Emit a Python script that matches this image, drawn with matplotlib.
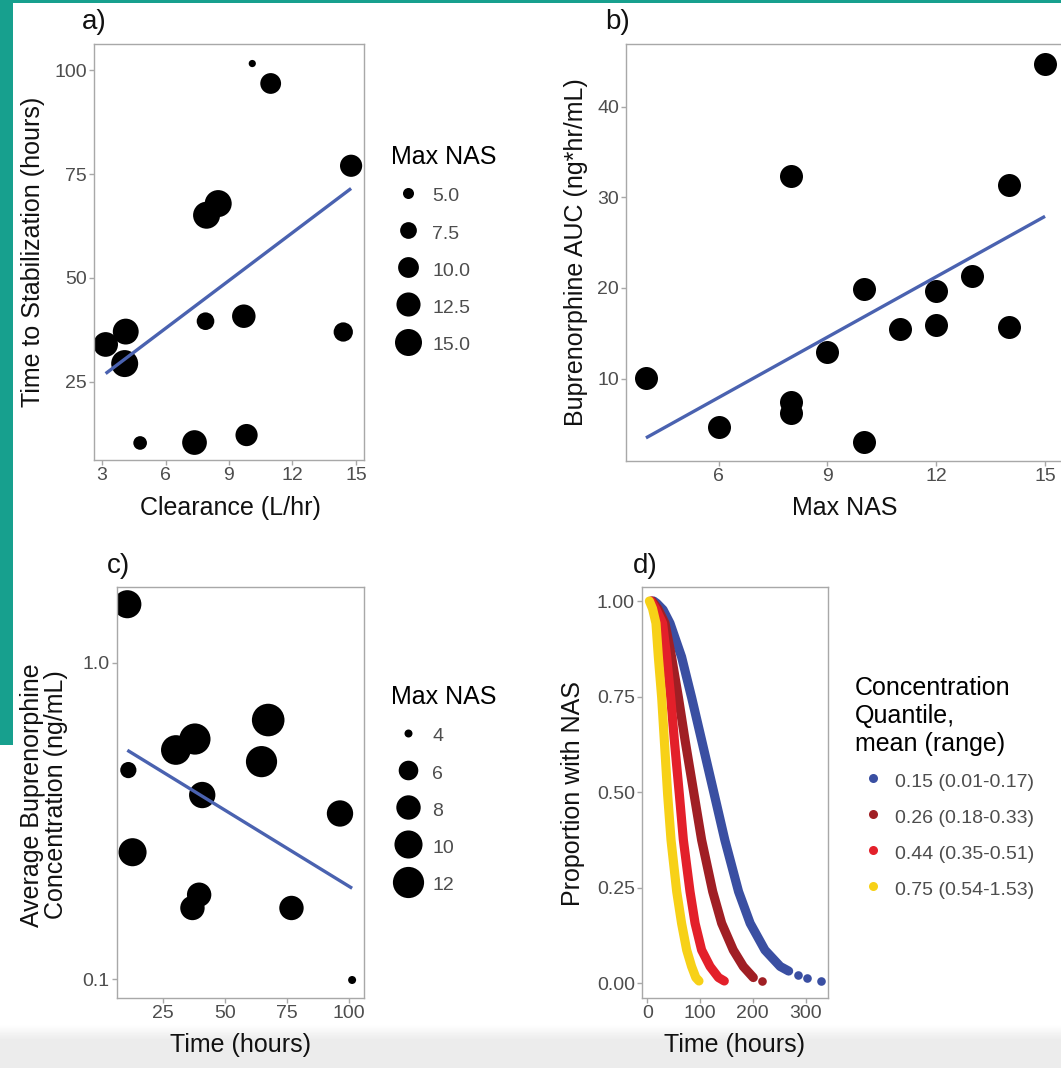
import numpy as np
import matplotlib
matplotlib.use("Agg")
import matplotlib.pyplot as plt
from matplotlib.lines import Line2D
from matplotlib.patches import Rectangle
from matplotlib.ticker import NullLocator

plt.rcParams['font.family'] = ['Liberation Sans', 'DejaVu Sans']

# ---------------- data ----------------
# a) Clearance vs time to stabilization
a_clearance = [10.1, 10.97, 14.77, 7.94, 8.49, 7.89, 9.70, 14.4, 4.12, 3.17, 4.07, 4.8, 7.37, 9.83]
a_time = [101.6, 96.8, 77.0, 65.1, 67.9, 39.6, 40.8, 37.0, 37.1, 34.0, 29.4, 10.3, 10.4, 12.2]
a_nas = [4, 10, 11, 15, 15, 8, 12, 9, 14, 13, 15, 6, 13, 11]
a_legend_values = [5.0, 7.5, 10.0, 12.5, 15.0]
a_legend_labels = ['5.0', '7.5', '10.0', '12.5', '15.0']
a_xticks = [3, 6, 9, 12, 15]
a_yticks = [25, 50, 75, 100]

# b) Max NAS vs AUC
b_nas = [15, 8, 14, 10, 13, 12, 11, 12, 14, 9, 4, 6, 8, 8, 10]
b_auc = [44.7, 32.3, 31.4, 19.9, 21.3, 19.6, 15.5, 15.9, 15.7, 12.9, 10.1, 4.7, 7.4, 6.2, 3.0]
b_xticks = [6, 9, 12, 15]
b_yticks = [10, 20, 30, 40]

# c) Time vs average concentration (log scale)
c_time = [10.5, 67.4, 64.7, 30.1, 37.8, 10.9, 40.75, 96.4, 12.6, 39.5, 36.8, 76.8, 101.3]
c_conc = [1.53, 0.659, 0.487, 0.53, 0.574, 0.458, 0.382, 0.334, 0.252, 0.185, 0.168, 0.168, 0.0995]
c_nas = [10, 13, 12, 11, 12, 5, 9, 9, 10, 8, 8, 8, 4]
c_legend_values = [4, 6, 8, 10, 12]
c_legend_labels = ['4', '6', '8', '10', '12']
c_xticks = [25, 50, 75, 100]
c_yticks = [0.1, 1.0]
c_ytick_labels = ['0.1', '1.0']

# d) Proportion with NAS over time, by concentration quantile
d_labels = ['0.15 (0.01-0.17)', '0.26 (0.18-0.33)', '0.44 (0.35-0.51)', '0.75 (0.54-1.53)']
d_blue_t = [12, 18, 30, 43, 65, 84, 103, 127, 147, 173, 195, 223, 252, 268, 285, 302, 330]
d_blue_p = [1.0, 0.994, 0.977, 0.942, 0.854, 0.748, 0.636, 0.494, 0.375, 0.240, 0.157, 0.087, 0.044, 0.032, 0.022, 0.014, 0.006]
d_dred_t = [9, 20, 33.6, 46, 59, 71.6, 88.7, 103, 124, 141, 163, 182, 201, 218]
d_dred_p = [1.0, 0.98, 0.942, 0.854, 0.748, 0.636, 0.494, 0.375, 0.240, 0.157, 0.087, 0.044, 0.015, 0.006]
d_red_t = [7, 16, 29, 36.8, 44.4, 51.3, 60.8, 68.4, 81, 90.6, 103, 119, 135, 146]
d_red_p = [1.0, 0.98, 0.942, 0.854, 0.748, 0.636, 0.494, 0.375, 0.240, 0.157, 0.087, 0.044, 0.015, 0.006]
d_yel_t = [4, 10, 16.5, 21, 27.3, 32.3, 38.6, 45, 55.8, 65, 74.7, 84, 92, 98]
d_yel_p = [1.0, 0.98, 0.942, 0.854, 0.748, 0.636, 0.494, 0.375, 0.240, 0.157, 0.087, 0.044, 0.015, 0.006]
d_tail_counts = [3, 1, 0, 0]
d_xticks = [0, 100, 200, 300]
d_yticks = [0.0, 0.25, 0.5, 0.75, 1.0]
d_ytick_labels = ['0.00', '0.25', '0.50', '0.75', '1.00']

# ---------------- style ----------------
W, H = 1061, 1068
PX = 0.72  # points per pixel at dpi 100
SPINE = '#a8a8a8'
TICKLAB = '#4d4d4d'
FIT = '#4a62b0'
D_COLORS = ['#3a4fa2', '#a01f24', '#e3202a', '#f7d117']
TICK_FS = 14
LAB_FS = 18

fig = plt.figure(figsize=(W / 100, H / 100), dpi=100)
fig.patch.set_facecolor('white')

# screenshot frame: teal strip + bottom gray bar
fig.patches.append(Rectangle((0, 1 - 745 / H), 13 / W, 745 / H, transform=fig.transFigure,
                             facecolor='#17a08e', edgecolor='none', zorder=-5))
fig.patches.append(Rectangle((0, 1 - 3 / H), 1, 3 / H, transform=fig.transFigure,
                             facecolor='#17a08e', edgecolor='none', zorder=-5))
bg = fig.add_axes([0, 0, 1, 48 / H], zorder=-10)
grad = np.concatenate([np.ones(4), np.linspace(1.0, 0.925, 16), np.full(28, 0.925)])[:, None]
bg.imshow(np.repeat(grad, 2, axis=1), cmap='gray', vmin=0, vmax=1, aspect='auto',
          extent=[0, 1, 0, 1])
bg.set_axis_off()


def ax_rect(x0, y0, x1, y1):
    return [x0 / W, 1 - y1 / H, (x1 - x0) / W, (y1 - y0) / H]


def style(ax):
    for sp in ax.spines.values():
        sp.set_color(SPINE)
        sp.set_linewidth(1.0)
    ax.tick_params(axis='both', which='both', color=SPINE, length=3.6, width=1.0,
                   labelsize=TICK_FS, labelcolor=TICKLAB, pad=1.5)


def place_labels(ax, xl, yl, xpos, ypos):
    ax.set_xlabel(xl, fontsize=LAB_FS, color='#111111')
    ax.set_ylabel(yl, fontsize=LAB_FS, color='#111111', linespacing=1.0)
    ax.xaxis.set_label_coords(*xpos)
    ax.yaxis.set_label_coords(*ypos)
    ax.xaxis.label.set_va('center')
    ax.yaxis.label.set_va('center')


def diam_a(v):
    return (2 + 7.37 * np.sqrt(np.asarray(v, float) - 3.5)) * PX


def diam_c(v):
    return (8 + 8.2 * np.sqrt(np.asarray(v, float) - 4)) * PX


def size_legend(ax, values, labels, diam_fn, top_px):
    handles = [Line2D([], [], ls='', marker='o', color='black', mew=0,
                      markersize=float(diam_fn(v))) for v in values]
    leg = ax.legend(handles, labels, title='Max NAS', loc='upper left',
                    bbox_to_anchor=(391 / W, 1 - top_px / H), bbox_transform=fig.transFigure,
                    frameon=False, fontsize=TICK_FS, title_fontsize=LAB_FS,
                    handlelength=1.75, handleheight=1.4, labelspacing=0.76,
                    handletextpad=0.36, borderpad=0, borderaxespad=0,
                    alignment='left', labelcolor=TICKLAB)
    return leg


# ---------------- a) ----------------
axA = fig.add_axes(ax_rect(94, 44, 364, 460))
style(axA)
axA.scatter(a_clearance, a_time, s=diam_a(a_nas) ** 2, c='black', linewidths=0, zorder=2)
coef = np.polyfit(a_clearance, a_time, 1)
xs = np.array([min(a_clearance), max(a_clearance)])
axA.plot(xs, np.polyval(coef, xs), color=FIT, lw=2.4, zorder=3, solid_capstyle='butt')
axA.set_xlim(2.62, 15.38)
axA.set_ylim(6.2, 106.3)
axA.set_xticks(a_xticks)
axA.set_yticks(a_yticks)
place_labels(axA, 'Clearance (L/hr)', 'Time to Stabilization (hours)',
             (0.504, -0.115), (-0.226, 0.5))
size_legend(axA, a_legend_values, a_legend_labels, diam_a, 145)

# ---------------- b) ----------------
axB = fig.add_axes(ax_rect(626, 44, 1065, 461))
style(axB)
axB.scatter(b_nas, b_auc, s=(23 * PX) ** 2, c='black', linewidths=0, zorder=2)
coef = np.polyfit(b_nas, b_auc, 1)
xs = np.array([min(b_nas), max(b_nas)])
axB.plot(xs, np.polyval(coef, xs), color=FIT, lw=2.4, zorder=3, solid_capstyle='butt')
axB.set_xlim(3.45, 15.55)
axB.set_ylim(0.9, 46.9)
axB.set_xticks(b_xticks)
axB.set_yticks(b_yticks)
place_labels(axB, 'Max NAS', 'Buprenorphine AUC (ng*hr/mL)',
             (0.499, -0.113), (-0.115, 0.5))

# ---------------- c) ----------------
axC = fig.add_axes(ax_rect(116.7, 586.7, 364, 998.3))
style(axC)
axC.set_yscale('log')
axC.scatter(c_time, c_conc, s=diam_c(c_nas) ** 2, c='black', linewidths=0, zorder=2)
coef = np.polyfit(c_time, np.log10(c_conc), 1)
xs = np.array([min(c_time), max(c_time)])
axC.plot(xs, 10 ** np.polyval(coef, xs), color=FIT, lw=2.4, zorder=3, solid_capstyle='butt')
axC.set_xlim(6.2, 106.1)
axC.set_ylim(0.0871, 1.738)
axC.set_xticks(c_xticks)
axC.set_yticks(c_yticks)
axC.set_yticklabels(c_ytick_labels)
axC.yaxis.set_minor_locator(NullLocator())
place_labels(axC, 'Time (hours)', 'Average Buprenorphine\nConcentration (ng/mL)',
             (0.4986, -0.1135), (-0.294, 0.494))
size_legend(axC, c_legend_values, c_legend_labels, diam_c, 685)

# ---------------- d) ----------------
axD = fig.add_axes(ax_rect(642, 586.7, 827.7, 997.7))
style(axD)
d_series = [(d_blue_t, d_blue_p), (d_dred_t, d_dred_p), (d_red_t, d_red_p), (d_yel_t, d_yel_p)]
for (t, p), col, ntail in zip(d_series, D_COLORS, d_tail_counts):
    n = len(t) - ntail
    axD.plot(t[:n], p[:n], color=col, lw=6.6, solid_capstyle='round',
             solid_joinstyle='round', zorder=2)
    if ntail:
        axD.plot(t[n:], p[n:], ls='', marker='o', ms=6.2, mew=0, color=col, zorder=2)
axD.set_xlim(-10, 342)
axD.set_ylim(-0.0377, 1.0375)
axD.set_xticks(d_xticks)
axD.set_yticks(d_yticks)
axD.set_yticklabels(d_ytick_labels)
place_labels(axD, 'Time (hours)', 'Proportion with NAS',
             (0.5, -0.115), (-0.372, 0.498))
d_handles = [Line2D([], [], ls='', marker='o', ms=6.5, mew=0, color=c) for c in D_COLORS]
axD.legend(d_handles, d_labels, title='Concentration\nQuantile,\nmean (range)',
           loc='upper left', bbox_to_anchor=(855 / W, 1 - 676 / H),
           bbox_transform=fig.transFigure, frameon=False, fontsize=TICK_FS,
           title_fontsize=LAB_FS, handlelength=1.86, handleheight=1.4,
           labelspacing=0.70, handletextpad=0.2, borderpad=0, borderaxespad=0,
           alignment='left', labelcolor=TICKLAB)

# ---------------- panel letters ----------------
for txt, x, y in [('a)', 82, 22), ('b)', 605, 22), ('c)', 107, 566), ('d)', 633, 566)]:
    fig.text(x / W, 1 - y / H, txt, fontsize=20, va='center', ha='left', color='#111111')

fig.savefig('out.png', dpi=100, facecolor='white')
